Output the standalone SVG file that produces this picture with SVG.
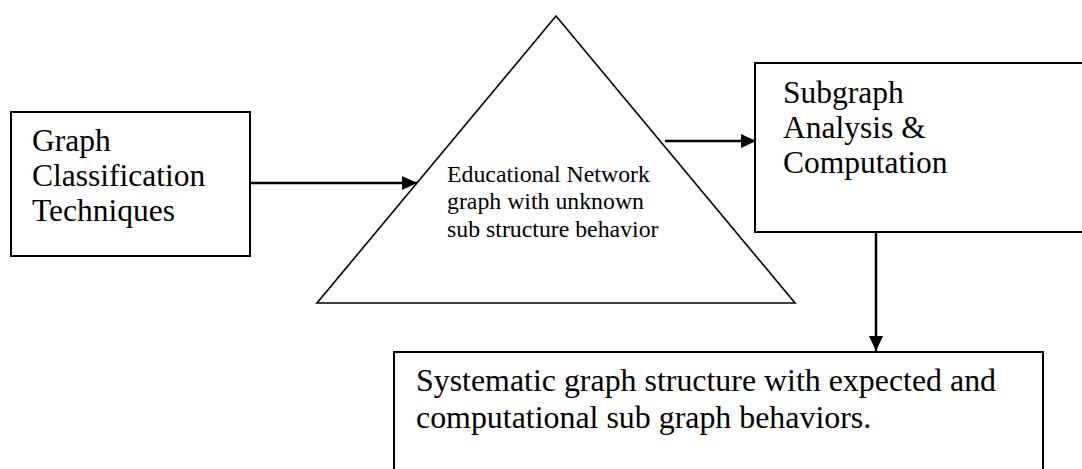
<svg xmlns="http://www.w3.org/2000/svg" width="1082" height="469" viewBox="0 0 1082 469">
<style>
.box{fill:#fff;stroke:#000;stroke-width:2}
.tri{fill:#fff;stroke:#000;stroke-width:1.6}
.big{font-family:"Liberation Serif","Times New Roman",serif;font-size:31.5px;fill:#000}
.bottom{font-size:31.9px}
.small{font-family:"Liberation Serif","Times New Roman",serif;font-size:23.8px;fill:#000}
.conn{stroke:#000;stroke-width:2.5;fill:none}
</style>
<defs>
<marker id="ah" markerWidth="15" markerHeight="14" refX="15" refY="7" orient="auto" markerUnits="userSpaceOnUse">
<path d="M0,0 L15,7 L0,14 Z" fill="#000"/>
</marker>
</defs>
<rect width="1082" height="469" fill="#fff"/>
<g id="graph-classification">
<rect class="box" x="11" y="112" width="239" height="144"/>
<text class="big" x="32" y="151">Graph</text>
<text class="big" x="32" y="186">Classification</text>
<text class="big" x="32" y="221">Techniques</text>
</g>
<g id="educational-network">
<polygon class="tri" points="556,16 795,303 317,303"/>
<text class="small" x="447" y="182">Educational Network</text>
<text class="small" x="447" y="209">graph with unknown</text>
<text class="small" x="447" y="237">sub structure behavior</text>
</g>
<g id="subgraph-analysis">
<rect class="box" x="755" y="63" width="340" height="169"/>
<text class="big" x="783" y="103">Subgraph</text>
<text class="big" x="783" y="138">Analysis &amp;</text>
<text class="big" x="783" y="173">Computation</text>
</g>
<g id="systematic-graph">
<rect class="box" x="394" y="352" width="649" height="130"/>
<text class="big bottom" x="416" y="391">Systematic graph structure with expected and</text>
<text class="big bottom" x="416" y="428">computational sub graph behaviors.</text>
</g>
<g id="connectors">
<line class="conn" x1="250" y1="183" x2="417" y2="183" marker-end="url(#ah)"/>
<line class="conn" x1="665" y1="141" x2="756" y2="141" marker-end="url(#ah)"/>
<line class="conn" x1="876" y1="232" x2="876" y2="351" marker-end="url(#ah)"/>
</g>
</svg>
